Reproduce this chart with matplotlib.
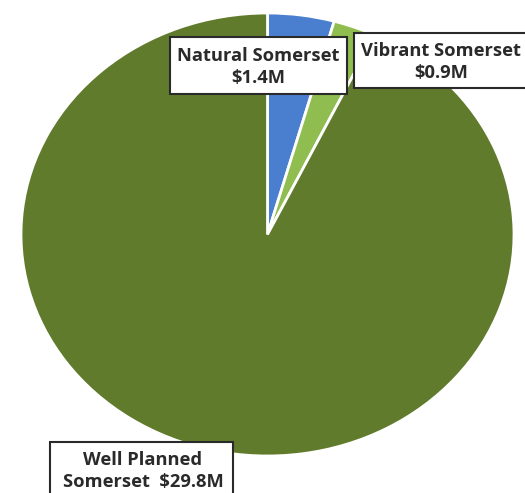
import matplotlib
matplotlib.use("Agg")
import matplotlib.pyplot as plt
from matplotlib.patches import Rectangle

labels = ["Natural Somerset\n$1.4M", "Vibrant Somerset\n$0.9M", "Well Planned\nSomerset  $29.8M"]
values = [1.4, 0.9, 29.8]
colors = ["#4a7fd0", "#8fbd4f", "#607b2c"]

W, H = 525, 493
fig = plt.figure(figsize=(W / 100, H / 100), dpi=100)
# the pie is stretched into an ellipse, so use an auto-aspect axes over its bounding box
ax = fig.add_axes([21 / W, (H - 456) / H, 493 / W, 443 / H])
ax.pie(values, colors=colors, startangle=90, counterclock=False,
       wedgeprops=dict(edgecolor="white", linewidth=2))
ax.set_aspect("auto")
ax.set_xlim(-1, 1)
ax.set_ylim(-1, 1)
ax.axis("off")

# label boxes in pixels: (left, top, right, bottom), text centre
boxes = [(170, 37, 347, 94), (354, 33, 540, 88), (50, 442, 233, 500)]
text_pos = [(258, 67), (441, 62), (143, 471)]


def px(x, y):
    return x / W, 1 - y / H


for txt, (l, t, r, b), (x, y) in zip(labels, boxes, text_pos):
    x0, y0 = px(l, b)
    fig.patches.append(Rectangle((x0, y0), (r - l) / W, (b - t) / H,
                                 transform=fig.transFigure, facecolor="white",
                                 edgecolor="#2a2a2a", linewidth=1.5, zorder=3))
    fig.text(*px(x, y), txt, ha="center", va="center", fontsize=13.2,
             fontweight="bold", family="Open Sans", color="#2a2a2a",
             linespacing=1.3, zorder=4)

fig.savefig("out.png", dpi=100)
